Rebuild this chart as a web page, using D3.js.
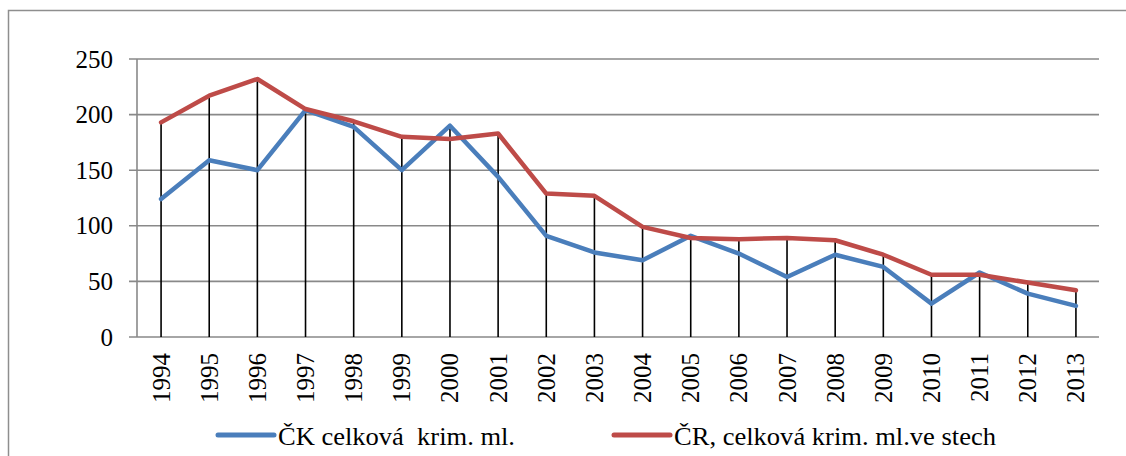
<!DOCTYPE html>
<html>
<head>
<meta charset="UTF-8">
<title>Kriminalita mladistvých</title>
<script src="https://cdnjs.cloudflare.com/ajax/libs/d3/7.8.5/d3.min.js"></script>
<style>
  body { margin: 0; background: #fff; }
  svg text { font-family: "Liberation Serif", serif; fill: #000; }
</style>
</head>
<body>
<div id="chart"></div>
<script>
// data
var years = ["1994","1995","1996","1997","1998","1999","2000","2001","2002","2003",
             "2004","2005","2006","2007","2008","2009","2010","2011","2012","2013"];
var ckValues = [124, 159, 150, 204, 189, 150, 190, 144, 91, 76,
                69, 91, 75, 54, 74, 63, 30, 58, 39, 28];
var crValues = [193, 217, 232, 205, 194, 180, 178, 183, 129, 127,
                99, 89, 88, 89, 87, 74, 56, 56, 49, 42];
var yTicks = [0, 50, 100, 150, 200, 250];
var seriesNames = ["ČK celková\u00a0 krim. ml.", "ČR, celková krim. ml.ve stech"];
var seriesColors = ["#4a7ebb", "#be4b48"];

var width = 1126, height = 456;

var svg = d3.select("#chart").append("svg")
    .attr("width", width)
    .attr("height", height)
    .attr("font-family", "Liberation Serif");

// outer chart frame (runs off the right and bottom edge)
svg.append("rect")
    .attr("x", 8.5).attr("y", 10.5)
    .attr("width", 1130).attr("height", 460)
    .attr("fill", "none")
    .attr("stroke", "#8e8e8e")
    .attr("stroke-width", 1.5);

var x = d3.scaleBand().domain(years).range([137, 1100]);
var y = d3.scaleLinear().domain([0, 250]).range([337, 59]);

// gridlines
svg.append("g").selectAll("line")
    .data(yTicks)
    .enter().append("line")
    .attr("x1", 129).attr("x2", 1099)
    .attr("y1", function(d){ return y(d); })
    .attr("y2", function(d){ return y(d); })
    .attr("stroke", "#898989")
    .attr("stroke-width", 1.6);

// y axis line
svg.append("line")
    .attr("x1", 137).attr("x2", 137)
    .attr("y1", y(250)).attr("y2", y(0))
    .attr("stroke", "#898989")
    .attr("stroke-width", 1.6);

// y tick labels
svg.append("g").selectAll("text")
    .data(yTicks)
    .enter().append("text")
    .attr("x", 113)
    .attr("y", function(d){ return y(d); })
    .attr("dy", "0.34em")
    .attr("text-anchor", "end")
    .attr("font-size", 25)
    .text(function(d){ return d; });

// x labels, rotated
svg.append("g").selectAll("text")
    .data(years)
    .enter().append("text")
    .attr("transform", function(d){
        return "translate(" + (x(d) + x.bandwidth() / 2) + ",353) rotate(-90)";
    })
    .attr("dy", "0.34em")
    .attr("text-anchor", "end")
    .attr("font-size", 25)
    .text(function(d){ return d; });

// drop lines from the higher point to the axis
svg.append("g").selectAll("line")
    .data(years)
    .enter().append("line")
    .attr("x1", function(d){ return x(d) + x.bandwidth() / 2; })
    .attr("x2", function(d){ return x(d) + x.bandwidth() / 2; })
    .attr("y1", function(d, i){ return y(Math.max(ckValues[i], crValues[i])); })
    .attr("y2", y(0))
    .attr("stroke", "#000")
    .attr("stroke-width", 1.6);

var line = d3.line()
    .x(function(d, i){ return x(years[i]) + x.bandwidth() / 2; })
    .y(function(d){ return y(d); });

[ckValues, crValues].forEach(function(vals, k){
    svg.append("path")
        .datum(vals)
        .attr("d", line)
        .attr("fill", "none")
        .attr("stroke", seriesColors[k])
        .attr("stroke-width", 4.5)
        .attr("stroke-linejoin", "round")
        .attr("stroke-linecap", "round");
});

// legend
var legendX = [218, 614];
var legendW = [237, 322];
var legend = svg.append("g").selectAll("g")
    .data(seriesNames)
    .enter().append("g")
    .attr("transform", function(d, i){ return "translate(" + legendX[i] + ",435)"; });

legend.append("line")
    .attr("x1", 0).attr("x2", 56)
    .attr("stroke", function(d, i){ return seriesColors[i]; })
    .attr("stroke-width", 5)
    .attr("stroke-linecap", "round");

legend.append("text")
    .attr("x", 60)
    .attr("y", 10)
    .attr("font-size", 26)
    .attr("textLength", function(d, i){ return legendW[i]; })
    .attr("lengthAdjust", "spacingAndGlyphs")
    .text(function(d){ return d; });
</script>
</body>
</html>
